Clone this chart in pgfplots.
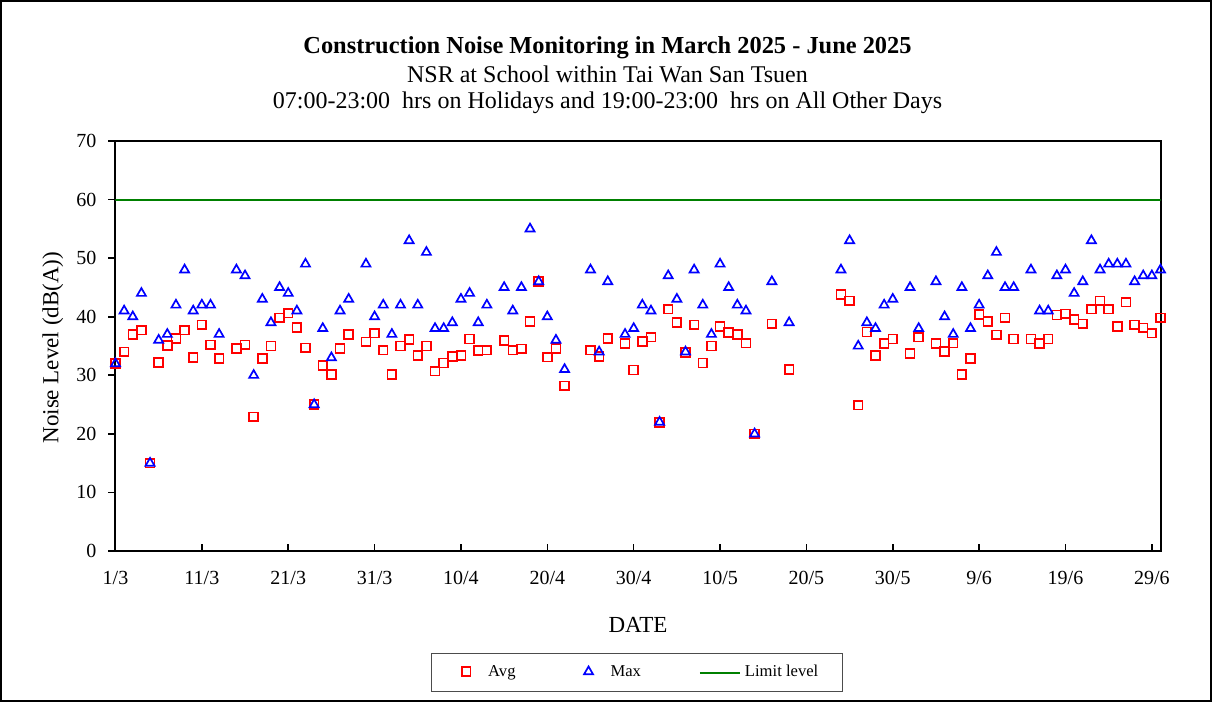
\documentclass[border=0pt]{standalone}
\usepackage{fontspec}
\setmainfont{Liberation Serif}
\usepackage{pgfplots}
\pgfplotsset{compat=1.18}
\usepackage{pgfplotstable}
\definecolor{limitgreen}{RGB}{0,128,0}
\definecolor{avgred}{RGB}{255,0,0}
\definecolor{maxblue}{RGB}{0,0,255}
\pgfplotsset{
  limitlegend/.style={legend image code/.code={\draw[##1] (0pt,0pt) -- (20pt,0pt);}},
  marklegend/.style={legend image code/.code={\path[draw=none] (0pt,0pt) -- (16.5pt,0pt); \draw[##1] plot[only marks] coordinates {(7.5pt,0.5pt)};}},
}

\pgfplotstableread{
day avg max
0 32.0 32
1 34.0 41
2 37.0 40
3 37.7 44
4 15.0 15
5 32.2 36
6 35.1 37
7 36.3 42
8 37.7 48
9 33.0 41
10 38.6 42
11 35.2 42
12 32.9 37
14 34.6 48
15 35.2 47
16 22.9 30
17 32.9 43
18 35.0 39
19 39.8 45
20 40.6 44
21 38.2 41
22 34.7 49
23 25.0 25
24 31.7 38
25 30.1 33
26 34.6 41
27 37.0 43
29 35.7 49
30 37.2 40
31 34.3 42
32 30.1 37
33 35.0 42
34 36.1 53
35 33.4 42
36 35.0 51
37 30.7 38
38 32.1 38
39 33.2 39
40 33.4 43
41 36.2 44
42 34.2 39
43 34.3 42
45 35.9 45
46 34.3 41
47 34.5 45
48 39.2 55
49 46.0 46
50 33.1 40
51 34.6 36
52 28.2 31
55 34.3 48
56 33.2 34
57 36.3 46
59 35.4 37
60 30.9 38
61 35.8 42
62 36.5 41
63 21.9 22
64 41.3 47
65 39.0 43
66 33.9 34
67 38.6 48
68 32.1 42
69 35.0 37
70 38.3 49
71 37.3 45
72 37.0 42
73 35.5 41
74 20.0 20
76 38.8 46
78 31.0 39
84 43.8 48
85 42.7 53
86 24.9 35
87 37.4 39
88 33.4 38
89 35.4 42
90 36.2 43
92 33.7 45
93 36.5 38
95 35.4 46
96 34.1 40
97 35.5 37
98 30.1 45
99 32.9 38
100 40.4 42
101 39.2 47
102 36.9 51
103 39.8 45
104 36.2 45
106 36.2 48
107 35.4 41
108 36.2 41
109 40.3 47
110 40.5 48
111 39.5 44
112 38.8 46
113 41.3 53
114 42.7 48
115 41.3 49
116 38.3 49
117 42.5 49
118 38.6 46
119 38.1 47
120 37.2 47
121 39.8 48
}\noisedata

\begin{document}
\begin{tikzpicture}
\path[use as bounding box] (-57.75pt,-75.5pt) rectangle (548.25pt,275.5pt);
\draw[line width=0.75pt] (-57.35pt,-75.1pt) rectangle (547.85pt,275.1pt);
\node[font=\fontsize{12.2}{14}\selectfont\bfseries] at (246pt,251.5pt) {Construction Noise Monitoring in March 2025 - June 2025};
\node[font=\fontsize{12}{14}\selectfont] at (246pt,238.5pt) {NSR at School within Tai Wan San Tsuen};
\node[font=\fontsize{12}{14}\selectfont] at (246pt,224pt) {07:00-23:00\ \ hrs on Holidays and 19:00-23:00\ \ hrs on All Other Days};
\begin{axis}[
  at={(0pt,0pt)}, anchor=south west,
  scale only axis, width=522.5pt, height=205pt,
  xmin=0, xmax=121, ymin=0, ymax=70,
  xtick={0,10,...,120},
  xticklabels={1/3,11/3,21/3,31/3,10/4,20/4,30/4,10/5,20/5,30/5,9/6,19/6,29/6},
  ytick={0,10,...,70},
  xtick pos=bottom, ytick pos=left,
  tick align=inside,
  major tick length=3.5pt,
  y tick style={xshift=-3.5pt},
  tick style={black, line width=0.8pt},
  axis line style={line width=1pt},
  /pgf/number format/assume math mode=true,
  tick label style={font=\fontsize{10}{12}\selectfont},
  xticklabel style={yshift=-6.5pt},
  yticklabel style={xshift=-6pt},
  xlabel={DATE},
  ylabel={Noise Level (dB(A))},
  label style={font=\fontsize{11.5}{13}\selectfont},
  xlabel style={at={(axis description cs:0.5,-0.1805)}, anchor=center},
  ylabel style={at={(axis description cs:-0.06,0.496)}, anchor=center},
  legend columns=3,
  legend style={at={(axis description cs:0.4988,-0.2968)}, anchor=center,
    draw=black!70, line width=0.5pt, font=\fontsize{8.3}{10}\selectfont,
    inner xsep=10pt, inner ysep=4pt,
    /tikz/every even column/.append style={column sep=27pt}},
  legend cell align=left,
]
\addplot[only marks, mark=square, mark size=2.2pt, draw=avgred, line width=0.85pt,
  mark options={solid}, marklegend] table[x=day, y=avg] {\noisedata};
\addlegendentry{Avg}
\addplot[only marks, mark=triangle, mark size=2.6pt, draw=maxblue, line width=0.85pt,
  mark options={solid}, marklegend] table[x=day, y=max] {\noisedata};
\addlegendentry{Max}
\addplot[limitgreen, line width=1pt, no marks, limitlegend] coordinates {(0,60) (121,60)};
\addlegendentry{Limit level}
\end{axis}
\end{tikzpicture}
\end{document}
